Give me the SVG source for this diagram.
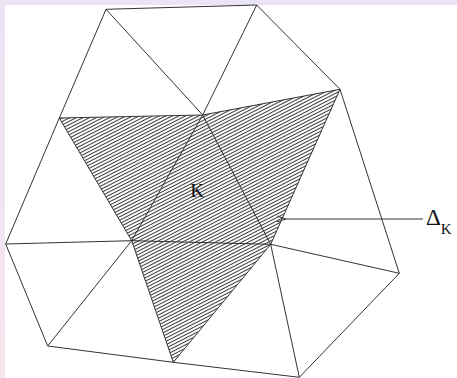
<svg xmlns="http://www.w3.org/2000/svg" width="457" height="378" viewBox="0 0 457 378">
  <defs>
    <linearGradient id="bg" x1="0" y1="0" x2="0" y2="1">
      <stop offset="0" stop-color="#ebe4f5"/>
      <stop offset="1" stop-color="#f7e4ee"/>
    </linearGradient>
    <pattern id="hatch" patternUnits="userSpaceOnUse" width="3" height="3" patternTransform="rotate(-27)">
      <rect width="3" height="3" fill="#ffffff"/>
      <line x1="0" y1="1.5" x2="3" y2="1.5" stroke="#3a3a3a" stroke-width="1"/>
    </pattern>
    <marker id="arr" markerWidth="12" markerHeight="10" refX="1" refY="5" orient="auto" markerUnits="userSpaceOnUse">
      <path d="M10,2 L1,5 L10,8" fill="none" stroke="#333333" stroke-width="1"/>
    </marker>
    <style>
      .e { stroke: #333333; stroke-width: 1; fill: none; }
      .t { font-family: "Liberation Serif", "Times New Roman", serif; fill: #111111; }
    </style>
  </defs>
  <rect x="0" y="0" width="457" height="378" fill="url(#bg)"/>
  <rect x="5" y="5" width="452" height="373" fill="#ffffff"/>

  <g id="deltaK">
    <polygon points="59.3,118 202.7,115 340,89.3 270.7,244.3 173.3,362.3 131.7,240.7" fill="url(#hatch)" stroke="none"/>
  </g>

  <g id="connectors">
    <line class="e" x1="106" y1="9.3" x2="256.7" y2="5"/>
    <line class="e" x1="106" y1="9.3" x2="202.7" y2="115"/>
    <line class="e" x1="106" y1="9.3" x2="59.3" y2="118"/>
    <line class="e" x1="256.7" y1="5" x2="202.7" y2="115"/>
    <line class="e" x1="256.7" y1="5" x2="340" y2="89.3"/>
    <line class="e" x1="340" y1="89.3" x2="202.7" y2="115"/>
    <line class="e" x1="202.7" y1="115" x2="59.3" y2="118"/>
    <line class="e" x1="340" y1="89.3" x2="270.7" y2="244.3"/>
    <line class="e" x1="340" y1="89.3" x2="399.3" y2="273.3"/>
    <line class="e" x1="202.7" y1="115" x2="131.7" y2="240.7"/>
    <line class="e" x1="202.7" y1="115" x2="270.7" y2="244.3"/>
    <line class="e" x1="59.3" y1="118" x2="131.7" y2="240.7"/>
    <line class="e" x1="59.3" y1="118" x2="5.7" y2="244"/>
    <line class="e" x1="131.7" y1="240.7" x2="5.7" y2="244"/>
    <line class="e" x1="131.7" y1="240.7" x2="270.7" y2="244.3"/>
    <line class="e" x1="131.7" y1="240.7" x2="47.7" y2="346"/>
    <line class="e" x1="131.7" y1="240.7" x2="173.3" y2="362.3"/>
    <line class="e" x1="5.7" y1="244" x2="47.7" y2="346"/>
    <line class="e" x1="47.7" y1="346" x2="173.3" y2="362.3"/>
    <line class="e" x1="270.7" y1="244.3" x2="173.3" y2="362.3"/>
    <line class="e" x1="173.3" y1="362.3" x2="299.3" y2="377.3"/>
    <line class="e" x1="270.7" y1="244.3" x2="299.3" y2="377.3"/>
    <line class="e" x1="270.7" y1="244.3" x2="399.3" y2="273.3"/>
    <line class="e" x1="399.3" y1="273.3" x2="299.3" y2="377.3"/>
    <line class="e" x1="423" y1="219" x2="286" y2="219" marker-end="url(#arr)"/>
  </g>

  <g id="label-K">
    <text class="t" x="197" y="197" font-size="19" text-anchor="middle">K</text>
  </g>
  <g id="label-deltaK">
    <text class="t" x="426" y="225" font-size="23">Δ<tspan font-size="15" dy="9">K</tspan></text>
  </g>
</svg>
